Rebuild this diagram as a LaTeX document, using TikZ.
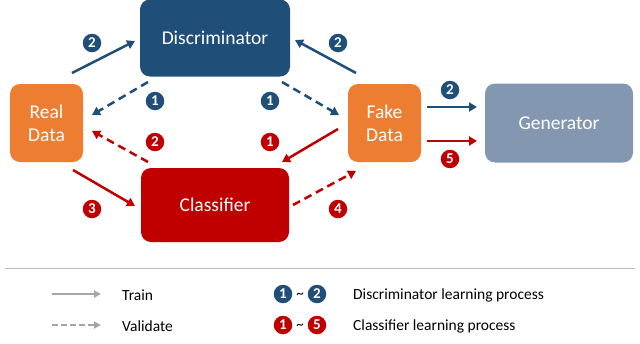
\documentclass[tikz,border=0pt]{standalone}
\usepackage{fontspec}
\setmainfont{Carlito}
\usetikzlibrary{arrows.meta}
\definecolor{dblue}{HTML}{1F4E79}
\definecolor{dred}{HTML}{C00000}
\definecolor{orng}{HTML}{ED7D31}
\definecolor{slate}{HTML}{8497B0}
\definecolor{lgray}{HTML}{A6A6A6}
\definecolor{rule}{HTML}{BFBFBF}
\tikzset{
  box/.style={rounded corners=10pt, text=white, align=center, inner sep=0pt, font=\fontsize{19.5}{23}\selectfont},
  badge/.style={circle, fill=#1, text=white, minimum size=18.5pt, inner sep=0pt, font=\bfseries\fontsize{15}{15}\selectfont},
  flow/.style={line width=2.5pt, -{Triangle[length=8pt,width=9pt]}, draw=#1},
  vflow/.style={flow=#1, dash pattern=on 8pt off 5pt},
  legtext/.style={anchor=west, font=\fontsize{15.5}{17}\selectfont, inner sep=0pt},
  tilde/.style={font=\fontsize{15}{15}\selectfont, inner sep=0pt}
}
\begin{document}
\begin{tikzpicture}[x=1pt,y=-1pt]
\useasboundingbox (0,0) rectangle (640,343);
% main blocks
\node[box, fill=dblue, minimum width=150pt, minimum height=77pt] (disc) at (215,38) {Discriminator};
\node[box, fill=dred, minimum width=148pt, minimum height=74pt] (cls) at (215,205) {Classifier};
\node[box, fill=orng, minimum width=73pt, minimum height=78pt] (real) at (46.5,123) {Real\\Data};
\node[box, fill=orng, minimum width=73pt, minimum height=78pt] (fake) at (384.5,123) {Fake\\Data};
\node[box, fill=slate, minimum width=148pt, minimum height=79pt] (gen) at (559,123) {Generator};

% arrow end points
\coordinate (r1) at (72,73);   \coordinate (d1) at (135,41);
\coordinate (d2) at (148,82);  \coordinate (r2) at (92,115);
\coordinate (c1) at (148,162); \coordinate (r3) at (92,131);
\coordinate (r4) at (73,170);  \coordinate (c2) at (135,206);
\coordinate (f1) at (356,73);  \coordinate (d3) at (295,40);
\coordinate (d4) at (282,82);  \coordinate (f2) at (339,115);
\coordinate (f3) at (338,129); \coordinate (c3) at (282,162);
\coordinate (c4) at (293,205); \coordinate (f4) at (356,171);
\coordinate (f5) at (427,107); \coordinate (g1) at (477,107);
\coordinate (f6) at (427,141); \coordinate (g2) at (477,141);

\draw[flow=dblue] (r1) -- (d1);
\draw[vflow=dblue] (d2) -- (r2);
\draw[vflow=dred] (c1) -- (r3);
\draw[flow=dred] (r4) -- (c2);
\draw[flow=dblue] (f1) -- (d3);
\draw[vflow=dblue] (d4) -- (f2);
\draw[flow=dred] (f3) -- (c3);
\draw[vflow=dred] (c4) -- (f4);
\draw[flow=dblue] (f5) -- (g1);
\draw[flow=dred] (f6) -- (g2);

% step badges
\node[badge=dblue] (b1) at (92,43) {2};
\node[badge=dblue] (b2) at (155,101) {1};
\node[badge=dred] (b3) at (155,142) {2};
\node[badge=dred] (b4) at (92,209) {3};
\node[badge=dblue] (b5) at (338,43) {2};
\node[badge=dblue] (b6) at (270,101) {1};
\node[badge=dred] (b7) at (270,142) {1};
\node[badge=dred] (b8) at (338,209) {4};
\node[badge=dblue] (b9) at (450,90) {2};
\node[badge=dred] (b10) at (450,159) {5};

% legend
\coordinate (la) at (5,268); \coordinate (lb) at (635,268);
\draw[rule, line width=1pt] (la) -- (lb);
\coordinate (t1) at (52,294); \coordinate (t2) at (101,294);
\coordinate (v1) at (52,325); \coordinate (v2) at (101,325);
\draw[lgray, line width=2.2pt, -{Triangle[length=7pt,width=7pt]}] (t1) -- (t2);
\draw[lgray, line width=2.2pt, dash pattern=on 6pt off 3pt, -{Triangle[length=7pt,width=7pt]}] (v1) -- (v2);
\node[legtext] (ltrain) at (122,295) {Train};
\node[legtext] (lval) at (122,326) {Validate};
\node[badge=dblue] (k1) at (283,294) {1};
\node[tilde] (k2) at (300,296) {\textasciitilde};
\node[badge=dblue] (k3) at (317,294) {2};
\node[badge=dred] (k4) at (283,325) {1};
\node[tilde] (k5) at (300,327) {\textasciitilde};
\node[badge=dred] (k6) at (317,325) {5};
\node[legtext] (ldisc) at (353,295) {Discriminator learning process};
\node[legtext] (lcls) at (353,326) {Classifier learning process};
\end{tikzpicture}
\end{document}
